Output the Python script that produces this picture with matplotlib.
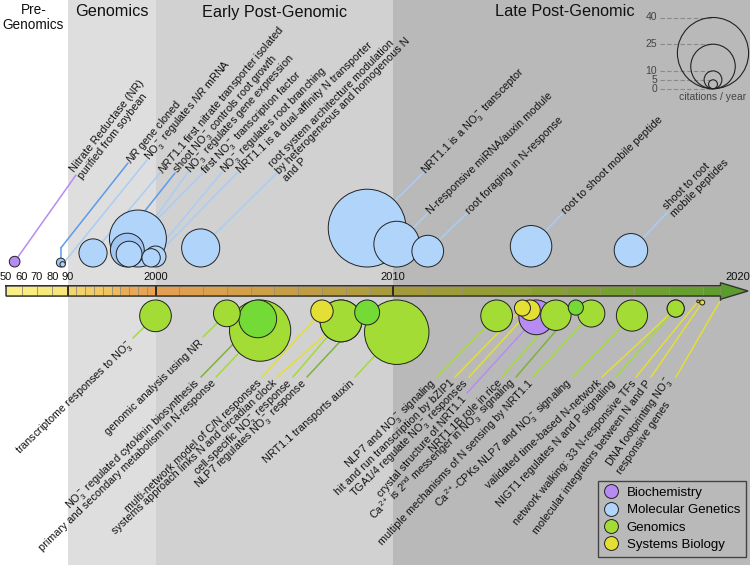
import numpy as np
import matplotlib
matplotlib.use('Agg')
import matplotlib.pyplot as plt
from matplotlib.patches import ConnectionPatch
from matplotlib.lines import Line2D
from matplotlib.transforms import Affine2D
from matplotlib.colors import LinearSegmentedColormap

plt.rcParams['font.family'] = ['Liberation Sans', 'DejaVu Sans']
plt.rcParams['mathtext.fontset'] = 'custom'
plt.rcParams['mathtext.rm'] = 'Liberation Sans'
plt.rcParams['mathtext.it'] = 'Liberation Sans:italic'
plt.rcParams['mathtext.default'] = 'regular'

# ---------------- data ----------------
eras = ['Pre-\nGenomics', 'Genomics', 'Early Post-Genomic', 'Late Post-Genomic']
era_start = [1900, 1990, 2000, 2010]
era_end = [1990, 2000, 2010, 2040]

tick_years = [1950, 1960, 1970, 1980, 1990, 2000, 2010, 2020]
tick_labels = ['50', '60', '70', '80', '90', '2000', '2010', '2020']

# above the timeline
top_labels = [
    'Nitrate Reductase (NR)\npurified from soybean',
    r'$\mathit{NR}$ gene cloned',
    r'NO$_3^-$ regulates $\mathit{NR}$ mRNA',
    r'$\mathit{NRT1.1}$ first nitrate transporter isolated',
    r'shoot NO$_3^-$ controls root growth',
    r'NO$_3^-$ regulates gene expression',
    r'first NO$_3^-$ transcription factor',
    r'NO$_3^-$ regulates root branching',
    'NRT1.1 is a dual-affinity N transporter',
    'root system architecture modulation\nby heterogeneous and homogenous N\nand P',
    r'NRT1.1 is a NO$_3^-$ transceptor',
    'N-responsive miRNA/auxin module',
    'root foraging in N-response',
    'root to shoot mobile peptide',
    'shoot to root\nmobile peptides',
]
top_years = [1955.5, 1985.6, 1986.8, 1992.9, 1996.8, 1997.0, 1998.0, 1999.5,
             2000.0, 2001.9, 2008.9, 2010.1, 2011.0, 2014.0, 2016.9]
top_cites = [6, 5, 3, 15.8, 19, 14.5, 32, 10.3, 11.8, 21.4, 43.7, 25.7, 17.8, 23.3, 18.8]
top_cats = ['Biochemistry'] + ['Molecular Genetics'] * 14
top_key = [0, 1, 0, 0, 1, 0, 0, 0, 0, 0, 0, 0, 0, 0, 0]

# below the timeline
bot_labels = [
    r'transcriptome responses to NO$_3^-$',
    'genomic analysis using NR',
    'primary and secondary metabolism in N-response',
    r'NO$_3^-$ regulated cytokinin biosynthesis',
    'multi-network model of C/N responses',
    'systems approach links N and circadian clock',
    r'cell-specific NO$_3^-$ response',
    r'NLP7 regulates NO$_3^-$ response',
    'NRT1.1 transports auxin',
    r'NLP7 and NO$_3^-$ signaling',
    'hit and run transcription by bZIP1',
    r'TGA1/4 regulate NO$_3^-$ responses',
    'crystal structure of NRT1.1',
    'NRT1.1B role in rice',
    r'Ca$^{2+}$ is 2$^{nd}$ messenger in NO$_3^-$ signaling',
    'multiple mechanisms of N sensing by NRT1.1',
    r'Ca$^{2+}$-CPKs NLP7 and NO$_3^-$ signaling',
    'validated time-based N-network',
    'NIGT1 regulates N and P signaling',
    'network walking: 33 N-responsive TFs',
    'molecular integrators between N and P',
    'DNA footprinting NO$_3^-$\nresponsive genes',
]
bot_years = [2000.0, 2003.0, 2004.4, 2004.3, 2007.0, 2007.8, 2007.8, 2008.9, 2010.1,
             2013.0, 2013.75, 2013.97, 2014.15, 2014.72, 2015.3, 2015.75, 2016.93,
             2018.2, 2018.2, 2018.85, 2018.97, 2019.5]
bot_cites = [17.8, 15.0, 34.4, 21.2, 12.6, 23.5, 23.5, 14.0, 36.2, 17.8, 9.0, 11.5,
             19.5, 17.1, 8.5, 15.2, 17.5, 9.6, 9.6, 1.5, 2.8, 0.3]
bot_cats = ['Genomics', 'Genomics', 'Genomics', 'Genomics', 'Systems Biology',
            'Systems Biology', 'Genomics', 'Genomics', 'Genomics', 'Genomics',
            'Systems Biology', 'Systems Biology', 'Biochemistry', 'Genomics', 'Genomics',
            'Genomics', 'Genomics', 'Systems Biology', 'Genomics', 'Systems Biology',
            'Systems Biology', 'Systems Biology']
bot_key = [0, 0, 0, 1, 0, 0, 0, 1, 0, 0, 0, 0, 0, 0, 1, 0, 0, 0, 0, 0, 0, 0]

categories = ['Biochemistry', 'Molecular Genetics', 'Genomics', 'Systems Biology']
size_ref = [40, 25, 10, 5]
size_ticks = [40, 25, 10, 5, 0]

# ---------------- styles / layout ----------------
fill = {('Biochemistry', 0): '#b68cf3', ('Molecular Genetics', 0): '#b1d4fa',
        ('Molecular Genetics', 1): '#a0c6f1', ('Genomics', 0): '#a3dc35',
        ('Genomics', 1): '#74da35', ('Systems Biology', 0): '#e4df34'}
linec = {('Biochemistry', 0): '#b68cf3', ('Molecular Genetics', 0): '#a9cdf5',
         ('Molecular Genetics', 1): '#5b9bec', ('Genomics', 0): '#a3dc35',
         ('Genomics', 1): '#7fb23c', ('Systems Biology', 0): '#e4df34'}
era_colors = ['white', '#dedede', '#d1d1d1', '#b9b9b9']
era_x = [33.5, 111.5, 274.5, 565]
era_size = [9.8, 11.7, 11.7, 11.7]

top_anchor = [(76, 175), (128, 163), (147, 160), (160, 173), (175, 173), (188, 172),
              (203, 173), (222, 172), (238, 172), (277, 173), (423, 173), (428, 213),
              (467, 213), (563, 213), (668, 212)]
top_rot = [52, 50, 50, 50, 49, 48, 46, 45, 44, 45.5, 46, 44, 45, 44, 45]
top_elbow = {1: 248, 4: 233}

bot_anchor = [(133, 338), (203, 337), (216, 377), (201, 377), (262, 377), (277, 377),
              (293, 377), (307, 377), (355, 377), (437, 377), (455, 377), (469, 377),
              (467, 393), (502, 377), (516, 377), (533, 377), (573, 377), (602, 377),
              (616, 377), (636, 377), (651, 377), (676, 377)]
bot_rot = [44, 44, 44, 44, 44, 43, 44, 44, 42, 44, 44, 45, 49, 45, 44, 47, 43, 43,
           47, 50, 53, 55]

# piecewise time axis of the original (year -> pixel)
axis_years = [1900, 1950, 1960, 1970, 1980, 1990, 2000, 2010, 2020, 2040]
axis_px = [-72.5, 6, 21.7, 36.7, 52.3, 67.5, 155.5, 393.3, 737.7, 1425.7]


def year_to_px(y):
    return np.interp(y, axis_years, axis_px)


def px_to_year(p):
    return np.interp(p, axis_px, axis_years)


PX_PER_CITE = 1.78
BASE_TOP = 267.0
BASE_BOT = 300.0
BAR_TOP, BAR_H = 285.7, 10.3
LABEL_FS = 7.8

fig = plt.figure(figsize=(7.5, 5.65), dpi=100)
ax = fig.add_axes([0, 0, 1, 1])
ax.set_xscale('function', functions=(year_to_px, px_to_year))
ax.set_xlim(px_to_year(0), px_to_year(750))
ax.set_ylim(565, 0)
ax.axis('off')
pix = Affine2D().scale(1 / 750, -1 / 565).translate(0, 1) + fig.transFigure

# era backgrounds + headers
for a, b, c in zip(era_start, era_end, era_colors):
    ax.axvspan(a, b, color=c, lw=0, zorder=0)
for name, x, fs in zip(eras, era_x, era_size):
    ax.text(x, 17.5 if '\n' in name else 12, name, transform=pix, ha='center',
            va='center', fontsize=fs, linespacing=1.05, color='#111')

# timeline bar
bar_cmap = LinearSegmentedColormap.from_list('tl', [
    (0.0, '#fbf186'), (0.5, '#f6e57a'), (0.57, '#f4d870'), (0.64, '#efc462'),
    (0.67, '#eaa958'), (0.72, '#e59f52'), (0.77, '#d3a04b'), (0.82, '#b99c43'),
    (0.86, '#a69a3c'), (0.91, '#8f9e36'), (0.96, '#72a032'), (1.0, '#5c9c2e')])
cell_starts = [1950, 1960, 1970, 1980] + list(range(1990, 2020))
cell_widths = [10] * 4 + [1] * 29 + [0.5]
mids = (np.array(cell_starts) + np.array(cell_widths) / 2 - 1950) / 70
ax.bar(cell_starts, BAR_H, width=cell_widths, bottom=BAR_TOP, align='edge',
       color=bar_cmap(mids), edgecolor='#9a9070', linewidth=0.6, zorder=2)
ax.fill([2019.5, 2020.3, 2019.5], [282.7, 291, 299.3], color='#5c9c2e', lw=0, zorder=2)
ax.vlines([1990, 2000, 2010], BAR_TOP, BAR_TOP + BAR_H, colors='#222', lw=1.3, zorder=3)
ax.plot([1950, 2019.5, 2019.5, 2020.3, 2019.5, 2019.5, 1950, 1950],
        [BAR_TOP, BAR_TOP, 282.7, 291, 299.3, BAR_TOP + BAR_H, BAR_TOP + BAR_H, BAR_TOP],
        color='#333', lw=1.0, zorder=4, solid_joinstyle='miter')
for yr, lab in zip(tick_years, tick_labels):
    ax.text(yr, 277, lab, ha='center', va='center', fontsize=8, color='#111')


def draw_row(years, cites, cats, keys, labels, anchors, rots, top):
    years = np.array(years)
    d = np.array(cites) * PX_PER_CITE
    yc = BASE_TOP - d / 2 if top else BASE_BOT + d / 2
    order = np.argsort(-d, kind='stable')
    fc = [fill[(cats[i], keys[i])] for i in order]
    ax.scatter(years[order], yc[order], s=(d[order] * 72 / fig.dpi) ** 2, c=fc,
               edgecolors='#222', linewidths=0.7, zorder=5)
    for i, (lx, ly) in enumerate(anchors):
        col = linec[(cats[i], keys[i])]
        end_y = top_elbow.get(i, yc[i]) if top else yc[i]
        con = ConnectionPatch((lx, ly), (years[i], end_y), coordsA=pix,
                              coordsB=ax.transData, color=col, lw=1.1, zorder=1)
        ax.add_artist(con)
        if top and i in top_elbow:
            ax.plot([years[i], years[i]], [end_y, yc[i]], color=col, lw=1.1, zorder=1)
        if top:
            ax.text(lx + 0.5, ly - 0.5, labels[i], transform=pix, rotation=rots[i],
                    rotation_mode='anchor', ha='left', va='center', fontsize=LABEL_FS,
                    linespacing=1.0, color='#111')
        else:
            ax.text(lx - 2, ly + 4.5, labels[i], transform=pix, rotation=rots[i],
                    rotation_mode='anchor', ha='right', va='center', fontsize=LABEL_FS,
                    linespacing=1.0, color='#111', multialignment='left')


draw_row(top_years, top_cites, top_cats, top_key, top_labels, top_anchor, top_rot, True)
draw_row(bot_years, bot_cites, bot_cats, bot_key, bot_labels, bot_anchor, bot_rot, False)

# size legend (citations / year)
sx, sy = 713, 88.7
ds = np.array(size_ref) * PX_PER_CITE
ax.scatter([sx] * len(ds), sy - ds / 2, s=(ds * 72 / fig.dpi) ** 2, facecolors='none',
           edgecolors='#222', linewidths=0.8, transform=pix, zorder=5)
for v in size_ticks:
    yv = sy - v * PX_PER_CITE
    ax.plot([660, sx], [yv, yv], transform=pix, color='#8a8a8a', lw=0.8, ls='--',
            dashes=(4, 2), zorder=4)
    ax.text(657, yv, str(v), transform=pix, ha='right', va='center', fontsize=7.5,
            color='#444')
ax.text(sx, 96.5, 'citations / year', transform=pix, ha='center', va='center',
        fontsize=7.5, color='#444')

# category legend
handles = [Line2D([], [], ls='', marker='o', ms=10, mfc=fill[(k, 0)], mec='#222', mew=0.7)
           for k in categories]
leg = ax.legend(handles, categories, loc='lower right',
                bbox_to_anchor=(746 / 750, 1 - 556.7 / 565), bbox_transform=fig.transFigure,
                frameon=True, fancybox=False, edgecolor='#444', facecolor='#b9b9b9',
                framealpha=1, fontsize=9.5, borderaxespad=0, handlelength=1.0,
                handletextpad=0.7, labelspacing=0.38, borderpad=0.45)
leg.get_frame().set_linewidth(1.0)
leg.set_zorder(10)

fig.savefig('out.png', dpi=100)
